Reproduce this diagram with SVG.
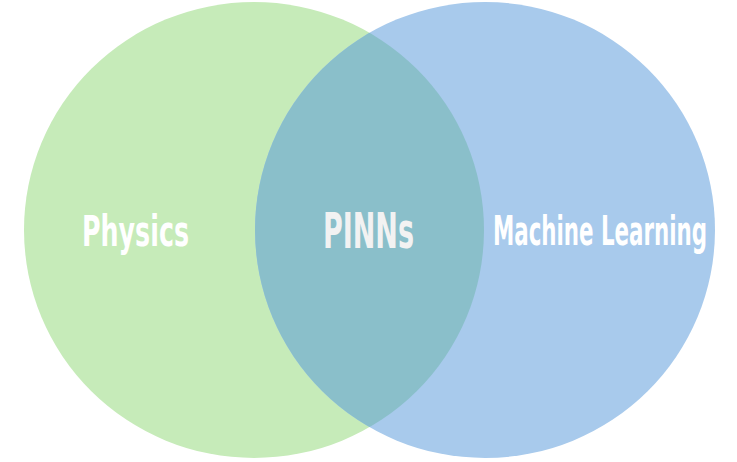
<svg xmlns="http://www.w3.org/2000/svg" width="737" height="462" viewBox="0 0 737 462">
<style>
.lbl{font-family:"DejaVu Sans Condensed","DejaVu Sans",sans-serif;font-weight:bold;fill:#ffffff}
</style>
<defs>
<clipPath id="clipL"><ellipse cx="254" cy="230" rx="230" ry="228"/></clipPath>
</defs>
<rect width="737" height="462" fill="#ffffff"/>
<g id="physics">
<ellipse cx="254" cy="230" rx="230" ry="228" fill="#C6EBB9"/>
</g>
<g id="machine-learning">
<ellipse cx="485" cy="230" rx="230" ry="228" fill="#A8CAEC"/>
</g>
<g id="pinns">
<ellipse cx="485" cy="230" rx="230" ry="228" fill="#8ABFCA" clip-path="url(#clipL)"/>
</g>
<g id="labels">
<text class="lbl" x="82" y="246" font-size="42" textLength="107" lengthAdjust="spacingAndGlyphs">Physics</text>
<text class="lbl" x="323" y="248" font-size="49" textLength="91" lengthAdjust="spacingAndGlyphs" style="fill:#F2F2F2">PINNs</text>
<text class="lbl" x="493" y="245" font-size="40" textLength="214" lengthAdjust="spacingAndGlyphs">Machine Learning</text>
</g>
</svg>
